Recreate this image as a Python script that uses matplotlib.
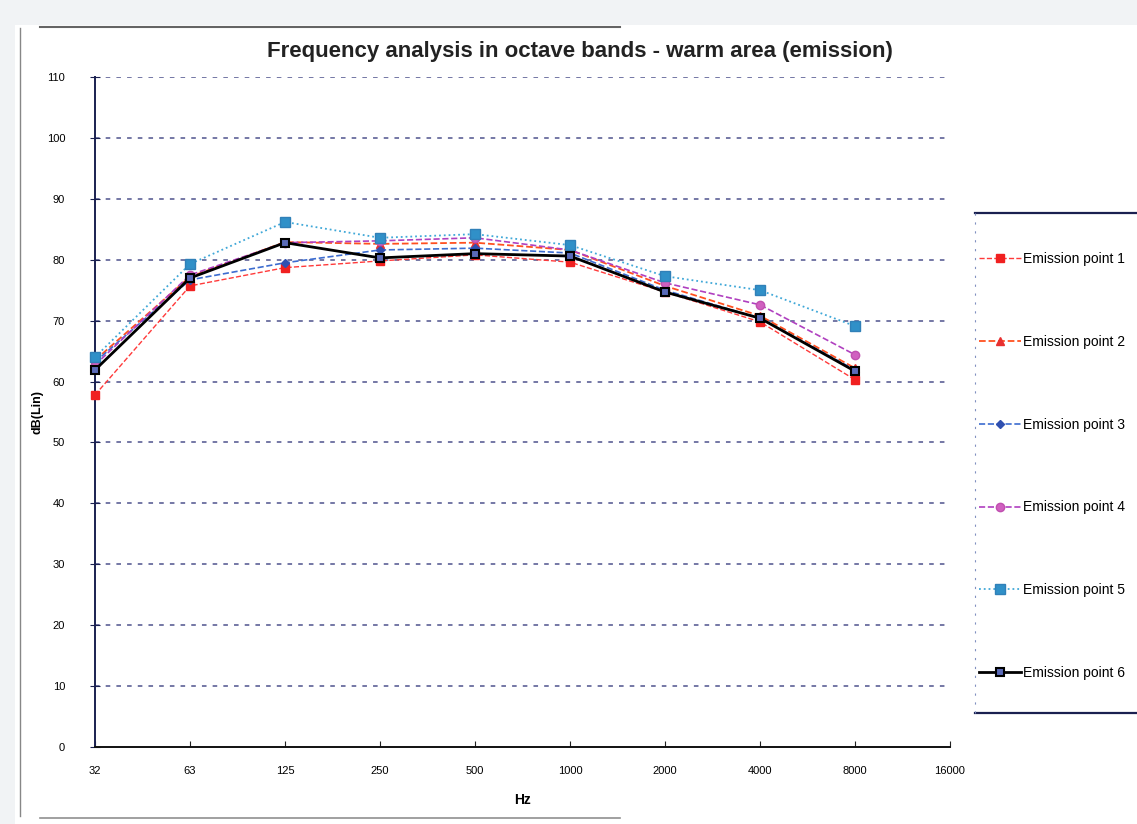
import matplotlib
matplotlib.use('Agg')
import matplotlib.pyplot as plt
from matplotlib.lines import Line2D
from matplotlib.patches import Rectangle

freqs = ['32', '63', '125', '250', '500', '1000', '2000', '4000', '8000', '16000']
point1 = [57.8, 75.7, 78.7, 79.8, 80.8, 79.6, 74.7, 69.8, 60.3]
point2 = [63.5, 77.2, 82.9, 82.6, 82.8, 81.6, 75.7, 70.8, 62.2]
point3 = [63.2, 76.7, 79.5, 81.6, 81.9, 81.1, 75.0, 70.4, 61.9]
point4 = [62.7, 77.5, 82.8, 83.1, 83.6, 81.6, 76.2, 72.6, 64.4]
point5 = [64.0, 79.3, 86.2, 83.6, 84.2, 82.4, 77.3, 75.0, 69.1]
point6 = [61.9, 77.0, 82.8, 80.3, 81.0, 80.6, 74.7, 70.4, 61.7]
labels = ['Emission point 1', 'Emission point 2', 'Emission point 3',
          'Emission point 4', 'Emission point 5', 'Emission point 6']
yticks = list(range(0, 111, 10))

plt.rcParams['font.family'] = ['Liberation Sans', 'DejaVu Sans']

fig = plt.figure(figsize=(11.37, 8.24), dpi=100, facecolor='#f1f3f5')
# white scanned page + scan edges
fig.patches.append(Rectangle((15 / 1137, 0), 1, 1 - 25 / 824, transform=fig.transFigure,
                             facecolor='white', edgecolor='none', zorder=-5))
fig.add_artist(Line2D([20 / 1137, 20 / 1137], [0.01, 1 - 28 / 824], transform=fig.transFigure,
                      color='#555555', lw=1.0, alpha=0.7))
fig.add_artist(Line2D([40 / 1137, 620 / 1137], [1 - 27 / 824] * 2, transform=fig.transFigure,
                      color='#222222', lw=1.5, alpha=0.7))
fig.add_artist(Line2D([40 / 1137, 620 / 1137], [1 - 818 / 824] * 2, transform=fig.transFigure,
                      color='#222222', lw=1.2, alpha=0.5))

ax = fig.add_axes([95 / 1137, 1 - 747 / 824, (950 - 95) / 1137, (747 - 77) / 824])
ax.patch.set_alpha(0)

x = list(range(len(point1)))
styles = [
    dict(color='#ff3a3a', ls='--', lw=1.0, marker='s', ms=6, mfc='#f02020', mec='#f02020'),
    dict(color='#ff5020', ls='--', lw=1.3, marker='^', ms=6, mfc='#e83030', mec='#e83030'),
    dict(color='#3c6cd0', ls='--', lw=1.2, marker='D', ms=4.5, mfc='#3050b0', mec='#3050b0'),
    dict(color='#b040c0', ls='--', lw=1.2, marker='o', ms=6, mfc='#d060c0', mec='#c050b0'),
    dict(color='#40a8d8', ls=':', lw=1.3, marker='s', ms=7, mfc='#3090c8', mec='#3080b8'),
    dict(color='black', ls='-', lw=2.0, marker='s', ms=6, mfc='#5a6ab8', mec='black', mew=1.5),
]
for ys, lab, st in zip([point1, point2, point3, point4, point5, point6], labels, styles):
    ax.plot(x, ys, label=lab, clip_on=False, zorder=3, **st)

ax.set_xlim(0, len(freqs) - 1)
ax.set_ylim(0, 110)
ax.set_xticks(range(len(freqs)))
ax.set_xticklabels(freqs, fontsize=8)
ax.set_yticks(yticks)
ax.set_yticklabels([str(v) for v in yticks], fontsize=8)
ax.tick_params(axis='y', direction='inout', length=7, color='#1a2050', pad=18)
ax.tick_params(axis='x', direction='in', length=4, color='#222222', pad=14)
for v in yticks[1:]:
    ax.axhline(v, color='#232870', ls=(0, (3, 4)), lw=1.1, alpha=0.8, zorder=0)
for s in ['top', 'right']:
    ax.spines[s].set_visible(False)
ax.spines['left'].set_color('#1a2050')
ax.spines['left'].set_linewidth(1.4)
ax.spines['bottom'].set_color('#111111')
ax.spines['bottom'].set_linewidth(1.4)

ax.set_xlabel('Hz', fontsize=10, fontweight='bold', labelpad=12)
ax.set_ylabel('dB(Lin)', fontsize=9, fontweight='bold', labelpad=2)
fig.text(580 / 1137, 1 - 52 / 824, 'Frequency analysis in octave bands - warm area (emission)',
         ha='center', va='center', fontsize=16, fontweight='bold', color='#222222')

# legend: frameless, with top and bottom rules like the scanned original
leg = ax.legend(loc='upper left', bbox_to_anchor=(975 / 1137, 1 - 248 / 824),
                bbox_transform=fig.transFigure, fontsize=10, labelspacing=4.95,
                handlelength=3.0, handletextpad=0.15, borderpad=0.3, borderaxespad=0,
                frameon=False)
fig.add_artist(Line2D([975 / 1137, 1.0], [1 - 213 / 824] * 2, transform=fig.transFigure,
                      color='#1a2050', lw=1.6))
fig.add_artist(Line2D([975 / 1137, 1.0], [1 - 713 / 824] * 2, transform=fig.transFigure,
                      color='#1a2050', lw=1.6))
fig.add_artist(Line2D([975 / 1137, 975 / 1137], [1 - 713 / 824, 1 - 213 / 824],
                      transform=fig.transFigure, color='#8090c0', lw=0.8, ls=(0, (2, 6))))

plt.savefig('out.png', dpi=100, facecolor=fig.get_facecolor())
